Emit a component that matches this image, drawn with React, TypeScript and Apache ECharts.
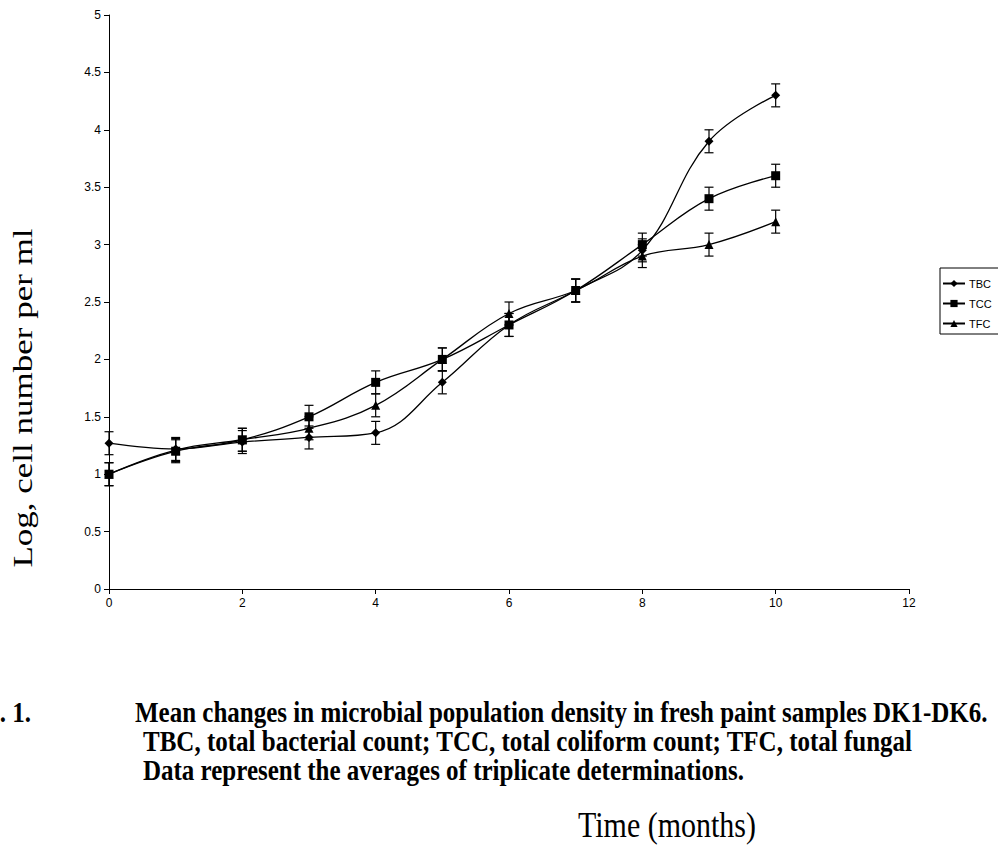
import React, { useEffect, useRef } from "react";
import * as echarts from "echarts";

const months = [0, 1, 2, 3, 4, 5, 6, 7, 8, 9, 10];
const tbc = [1.27, 1.22, 1.28, 1.32, 1.36, 1.8, 2.3, 2.6, 2.95, 3.9, 4.3];
const tcc = [1.0, 1.2, 1.3, 1.5, 1.8, 2.0, 2.3, 2.6, 3.0, 3.4, 3.6];
const tfc = [1.0, 1.21, 1.3, 1.4, 1.6, 2.0, 2.4, 2.6, 2.9, 3.0, 3.2];
const tbcErr = [0.1, 0.1, 0.1, 0.1, 0.1, 0.1, 0.1, 0.1, 0.1, 0.1, 0.1];
const tccErr = [0.1, 0.1, 0.1, 0.1, 0.1, 0.1, 0.1, 0.1, 0.1, 0.1, 0.1];
const tfcErr = [0.1, 0.1, 0.1, 0.1, 0.1, 0.1, 0.1, 0.1, 0.1, 0.1, 0.1];
const seriesNames = ["TBC", "TCC", "TFC"];
const symbols = ["diamond", "rect", "triangle"];
const symbolSizes = [9, 9, 9];

const captionLines = [
  "Mean changes in microbial population density in fresh paint samples DK1-DK6.",
  "TBC, total bacterial count; TCC, total coliform count; TFC, total fungal",
  "Data represent the averages of triplicate determinations.",
];
const figLabel = "Fig. 1.";
const xTitle = "Time (months)";
const yTitle = "Log, cell number per ml";

export default function App() {
  const ref = useRef<HTMLDivElement>(null);
  useEffect(() => {
    if (!ref.current) return;
    const chart = echarts.init(ref.current, undefined, { renderer: "svg" });
    const values = [tbc, tcc, tfc];
    const errs = [tbcErr, tccErr, tfcErr];

    const lineSeries = values.map((vals, i) => ({
      name: seriesNames[i],
      type: "line",
      smooth: 0.4,
      data: months.map((m, j) => [m, vals[j]]),
      symbol: symbols[i],
      symbolSize: symbolSizes[i],
      showSymbol: true,
      lineStyle: { color: "#000", width: 1.3 },
      itemStyle: { color: "#000" },
      z: 3,
    }));

    const errSeries = values.map((vals, i) => ({
      type: "custom",
      data: months.map((m, j) => [m, vals[j], errs[i][j]]),
      z: 4,
      silent: true,
      renderItem: (params: any, api: any) => {
        const x = api.value(0);
        const y = api.value(1);
        const e = api.value(2);
        const top = api.coord([x, y + e]);
        const bot = api.coord([x, y - e]);
        const hw = 4.5;
        const style = { stroke: "#000", lineWidth: 1.2 };
        return {
          type: "group",
          children: [
            { type: "line", shape: { x1: top[0], y1: top[1], x2: bot[0], y2: bot[1] }, style },
            { type: "line", shape: { x1: top[0] - hw, y1: top[1], x2: top[0] + hw, y2: top[1] }, style },
            { type: "line", shape: { x1: bot[0] - hw, y1: bot[1], x2: bot[0] + hw, y2: bot[1] }, style },
          ],
        };
      },
    }));

    const axisLabelStyle = { color: "#000", fontFamily: "Liberation Sans", fontSize: 12 };
    const capFont = "bold 25px 'Liberation Serif'";

    chart.setOption({
      animation: false,
      backgroundColor: "#fff",
      grid: { left: 109, right: 89, top: 15, bottom: 259, containLabel: false },
      xAxis: {
        type: "value",
        min: 0,
        max: 12,
        interval: 2,
        splitLine: { show: false },
        axisLine: { show: true, lineStyle: { color: "#000", width: 1 } },
        axisTick: { show: true, length: 5, lineStyle: { color: "#000" } },
        axisLabel: { ...axisLabelStyle, margin: 8 },
      },
      yAxis: {
        type: "value",
        min: 0,
        max: 5,
        interval: 0.5,
        splitLine: { show: false },
        axisLine: { show: true, lineStyle: { color: "#000", width: 1 } },
        axisTick: { show: true, length: 5, lineStyle: { color: "#000" } },
        axisLabel: { ...axisLabelStyle, margin: 8 },
      },
      legend: {
        data: seriesNames,
        orient: "vertical",
        left: 940,
        top: 268,
        padding: [10, 40, 5, 2],
        itemGap: 9,
        itemWidth: 22,
        itemHeight: 9,
        itemStyle: { color: "#000" },
        borderColor: "#000",
        borderWidth: 1,
        borderRadius: 0,
        textStyle: { color: "#000", fontFamily: "Liberation Sans", fontSize: 11, padding: [0, 0, 0, -1] },
      },
      graphic: [
        {
          type: "text",
          x: 23,
          y: 398,
          rotation: Math.PI / 2,
          scaleX: 1.25,
          style: {
            text: yTitle,
            font: "28px 'Liberation Serif'",
            fill: "#000",
            align: "center",
            verticalAlign: "middle",
          },
        },
        {
          type: "text",
          x: 667,
          y: 825,
          scaleY: 1.2,
          style: {
            text: xTitle,
            font: "30px 'Liberation Serif'",
            fill: "#000",
            align: "center",
            verticalAlign: "middle",
          },
        },
        {
          type: "text",
          x: 31,
          y: 712,
          scaleY: 1.2,
          style: {
            text: figLabel,
            font: capFont,
            fill: "#000",
            align: "right",
            verticalAlign: "middle",
          },
        },
        {
          type: "text",
          x: 135,
          y: 712,
          scaleY: 1.2,
          style: {
            text: captionLines[0],
            font: capFont,
            fill: "#000",
            align: "left",
            verticalAlign: "middle",
          },
        },
        {
          type: "text",
          x: 143,
          y: 741,
          scaleY: 1.2,
          style: {
            text: captionLines[1],
            font: capFont,
            fill: "#000",
            align: "left",
            verticalAlign: "middle",
          },
        },
        {
          type: "text",
          x: 143,
          y: 770,
          scaleY: 1.2,
          style: {
            text: captionLines[2],
            font: capFont,
            fill: "#000",
            align: "left",
            verticalAlign: "middle",
          },
        },
      ],
      series: [...lineSeries, ...errSeries],
    });
    return () => chart.dispose();
  }, []);
  return (
    <div
      ref={ref}
      style={{ position: "absolute", left: 0, top: 0, width: 998, height: 848 }}
    />
  );
}
